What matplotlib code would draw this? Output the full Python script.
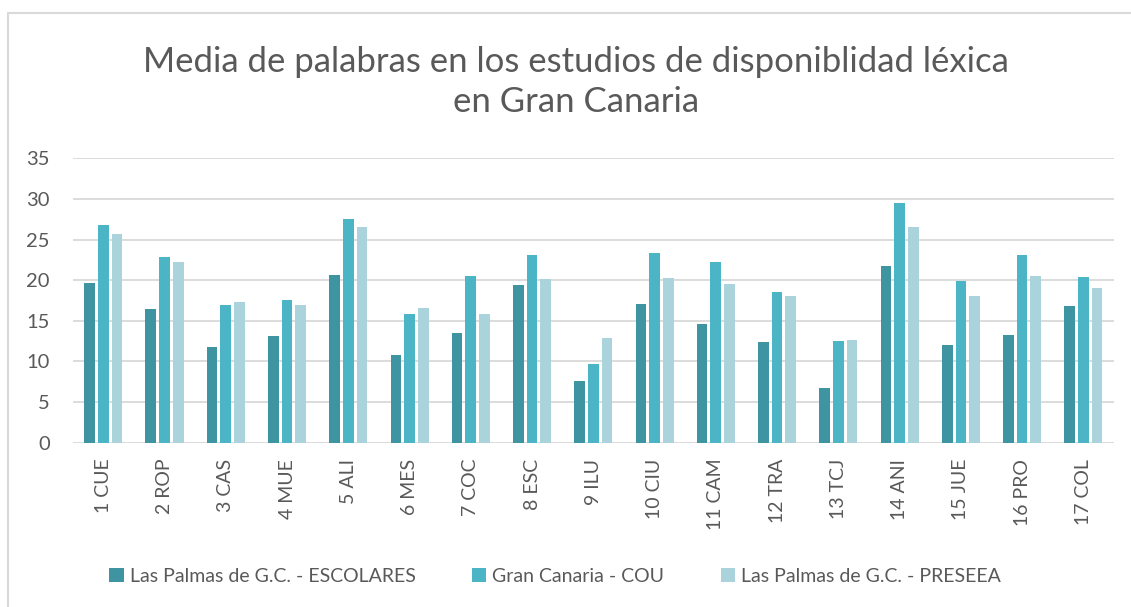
import matplotlib
matplotlib.use('agg')
import matplotlib.pyplot as plt
from matplotlib.patches import Patch, Rectangle
import numpy as np

categories = ['1 CUE', '2 ROP', '3 CAS', '4 MUE', '5 ALI', '6 MES', '7 COC', '8 ESC', '9 ILU',
              '10 CIU', '11 CAM', '12 TRA', '13 TCJ', '14 ANI', '15 JUE', '16 PRO', '17 COL']
escolares = [19.7, 16.4, 11.8, 13.1, 20.6, 10.8, 13.5, 19.4, 7.6, 17.1, 14.6, 12.4, 6.7, 21.8, 12.0, 13.3, 16.8]
cou = [26.8, 22.9, 17.0, 17.6, 27.5, 15.8, 20.5, 23.1, 9.7, 23.3, 22.2, 18.6, 12.5, 29.5, 19.9, 23.1, 20.4]
preseea = [25.7, 22.2, 17.3, 16.9, 26.6, 16.6, 15.9, 20.1, 12.9, 20.3, 19.5, 18.0, 12.6, 26.6, 18.1, 20.5, 19.0]
series_names = ['Las Palmas de G.C. - ESCOLARES', 'Gran Canaria - COU', 'Las Palmas de G.C. - PRESEEA']
colors = ['#3E94A0', '#4BB5C6', '#AAD3DB']

plt.rcParams['font.family'] = ['Lato', 'DejaVu Sans']
text_color = '#595959'
grid_color = '#D9D9D9'

W, H = 1131, 607
fig = plt.figure(figsize=(W / 100, H / 100), dpi=100)

# chart border (cropped on the right and bottom)
fig.patches.append(Rectangle((8 / W, -0.05), 1.2, 1 - 13 / H + 0.05, transform=fig.transFigure,
                             fill=False, edgecolor=grid_color, linewidth=1.5))

left, right = 72.7, 1114
bottom, top = 442.7, 158.3
ax = fig.add_axes([left / W, 1 - bottom / H, (right - left) / W, (bottom - top) / H])

x = np.arange(len(categories))
bw = 0.175
step = 0.224
for i, (vals, c) in enumerate(zip([escolares, cou, preseea], colors)):
    ax.bar(x + (i - 1) * step, vals, width=bw, color=c, zorder=3)

ax.set_xlim(-0.5, len(categories) - 0.5)
ax.set_ylim(0, 35)
ax.set_yticks(range(0, 36, 5))
ax.yaxis.grid(True, color=grid_color, linewidth=1.3, zorder=0)
for s in ax.spines.values():
    s.set_visible(False)
ax.tick_params(axis='both', length=0, colors=text_color)
ax.tick_params(axis='y', pad=16.5, labelsize=14.5)
ax.tick_params(axis='x', pad=11.5, labelsize=14)
ax.set_xticks(x)
ax.set_xticklabels(categories, rotation=90, va='top', ha='center')

fig.text(576 / W, 1 - 82 / H, 'Media de palabras en los estudios de disponiblidad léxica\nen Gran Canaria',
         ha='center', va='center', fontsize=25, color=text_color, linespacing=1.33)

handles = [Patch(facecolor=c) for c in colors]
fig.legend(handles, series_names, loc='center', bbox_to_anchor=(555 / W, 1 - 576 / H), ncol=3,
           frameon=False, fontsize=14, labelcolor=text_color, handlelength=0.75, handleheight=0.75,
           handletextpad=0.3, columnspacing=2.9)

fig.savefig('out.png', dpi=100)
